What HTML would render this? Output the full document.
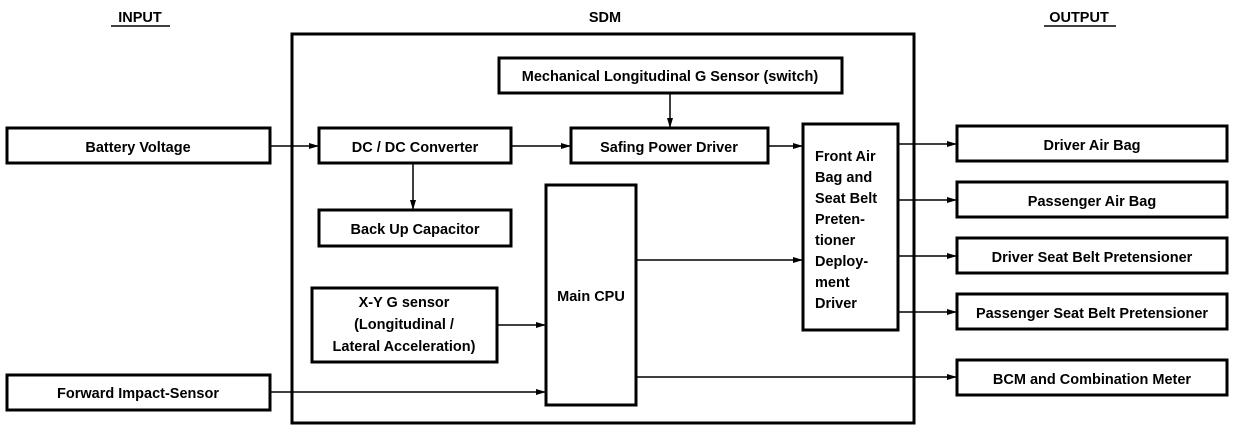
<!DOCTYPE html>
<html><head><style>
body{margin:0;background:#fff;width:1248px;height:432px;overflow:hidden}
svg text{font-family:"Liberation Sans",Arial,sans-serif;font-size:14.5px;font-weight:bold;fill:#000}
</style></head><body>
<svg width="1248" height="432" viewBox="0 0 1248 432" xmlns="http://www.w3.org/2000/svg">
<defs><marker id="a" markerWidth="10" markerHeight="8" refX="9" refY="4" orient="auto" markerUnits="userSpaceOnUse"><path d="M0,1 L10,4 L0,7 z" fill="#000"/></marker></defs>
<g text-anchor="middle">
<text x="140" y="22">INPUT</text><line x1="111" y1="26" x2="170" y2="26" stroke="#000" stroke-width="1.5"/>
<text x="605" y="22">SDM</text>
<text x="1079" y="22">OUTPUT</text><line x1="1044" y1="26" x2="1116" y2="26" stroke="#000" stroke-width="1.5"/>
</g>
<g fill="none" stroke="#000" stroke-width="3">
<rect x="292" y="34" width="622" height="389"/>
<rect x="499" y="58" width="343" height="35"/>
<rect x="7" y="128" width="263" height="35"/>
<rect x="319" y="128" width="192" height="35"/>
<rect x="571" y="128" width="197" height="35"/>
<rect x="319" y="210" width="192" height="36"/>
<rect x="546" y="185" width="90" height="220"/>
<rect x="312" y="288" width="185" height="74"/>
<rect x="7" y="375" width="263" height="35"/>
<rect x="803" y="124" width="95" height="206"/>
<rect x="957" y="126" width="270" height="35"/>
<rect x="957" y="182" width="270" height="35"/>
<rect x="957" y="238" width="270" height="35"/>
<rect x="957" y="294" width="270" height="35"/>
<rect x="957" y="360" width="270" height="35"/>
</g>
<g stroke="#000" stroke-width="1.5" marker-end="url(#a)">
<line x1="270" y1="146" x2="318" y2="146"/>
<line x1="511" y1="146" x2="570" y2="146"/>
<line x1="670" y1="93" x2="670" y2="127"/>
<line x1="413" y1="163" x2="413" y2="209"/>
<line x1="768" y1="146" x2="802" y2="146"/>
<line x1="636" y1="260" x2="802" y2="260"/>
<line x1="497" y1="325" x2="545" y2="325"/>
<line x1="270" y1="392" x2="545" y2="392"/>
<line x1="636" y1="377" x2="956" y2="377"/>
<line x1="898" y1="144" x2="956" y2="144"/>
<line x1="898" y1="200" x2="956" y2="200"/>
<line x1="898" y1="256" x2="956" y2="256"/>
<line x1="898" y1="312" x2="956" y2="312"/>
</g>
<g text-anchor="middle">
<text x="670" y="81">Mechanical Longitudinal G Sensor (switch)</text>
<text x="138" y="152">Battery Voltage</text>
<text x="415" y="152">DC / DC Converter</text>
<text x="669" y="152">Safing Power Driver</text>
<text x="415" y="234">Back Up Capacitor</text>
<text x="591" y="301">Main CPU</text>
<text x="404" y="307">X-Y G sensor</text>
<text x="404" y="329">(Longitudinal /</text>
<text x="404" y="351">Lateral Acceleration)</text>
<text x="138" y="398">Forward Impact-Sensor</text>
<text x="1092" y="150">Driver Air Bag</text>
<text x="1092" y="206">Passenger Air Bag</text>
<text x="1092" y="262">Driver Seat Belt Pretensioner</text>
<text x="1092" y="318">Passenger Seat Belt Pretensioner</text>
<text x="1092" y="384">BCM and Combination Meter</text>
</g>
<g>
<text x="815" y="161">Front Air</text>
<text x="815" y="182">Bag and</text>
<text x="815" y="203">Seat Belt</text>
<text x="815" y="224">Preten-</text>
<text x="815" y="245">tioner</text>
<text x="815" y="266">Deploy-</text>
<text x="815" y="287">ment</text>
<text x="815" y="308">Driver</text>
</g>
</svg>
</body></html>
